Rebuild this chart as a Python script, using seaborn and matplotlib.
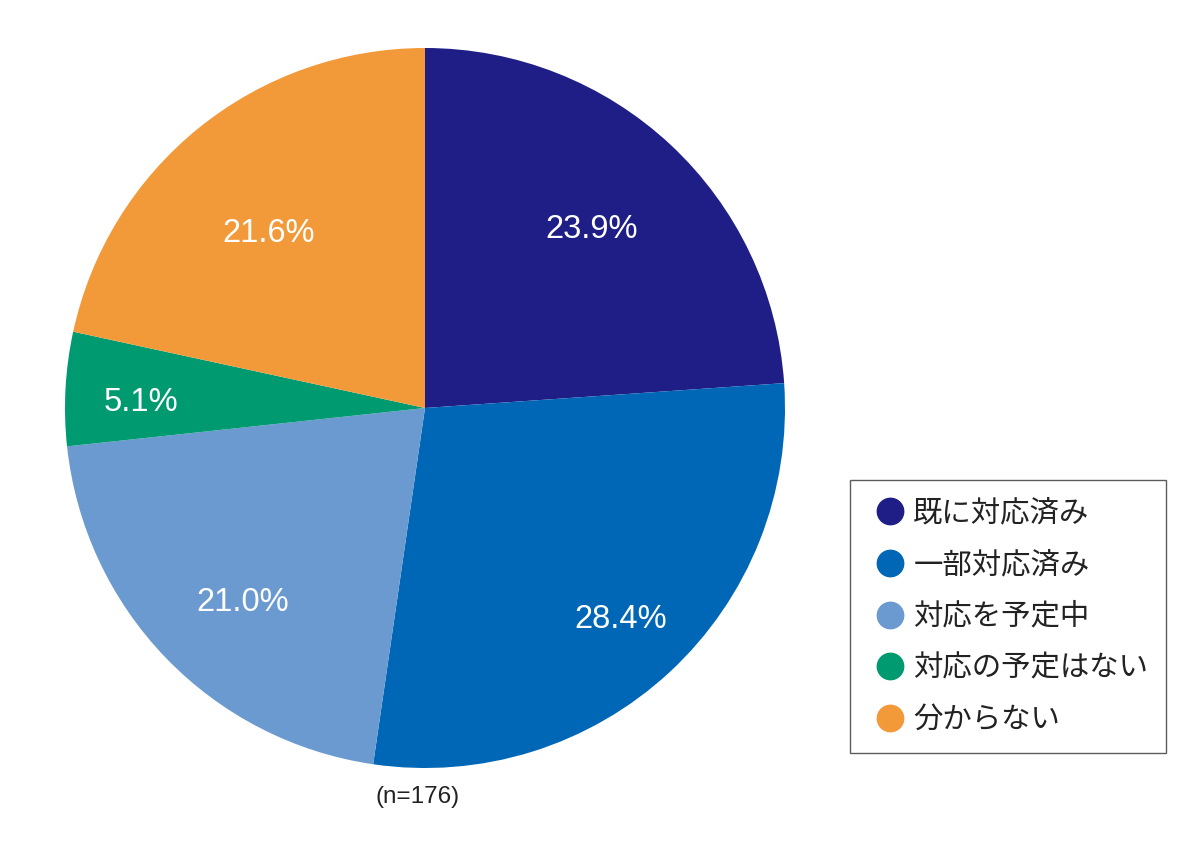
import matplotlib
matplotlib.use("Agg")
import matplotlib.pyplot as plt
import seaborn as sns
import numpy as np
from matplotlib.lines import Line2D

categories = ["既に対応済み", "一部対応済み", "対応を予定中", "対応の予定はない", "分からない"]
values = [23.9, 28.4, 21.0, 5.1, 21.6]
colors = ["#1e1e86", "#0066b6", "#6b9ad1", "#009a71", "#f29a39"]
sample_note = "(n=176)"

sns.set_theme(style="white")
plt.rcParams['font.family'] = ['Liberation Sans', 'Noto Sans CJK JP', 'DejaVu Sans']
palette = sns.color_palette(colors)

fig = plt.figure(figsize=(12, 8.57), dpi=100)
ax = fig.add_axes([65/1200, 89/857, 720/1200, 720/857])

wedges, _ = ax.pie(values, colors=palette, startangle=90, counterclock=False,
                   radius=1.0, wedgeprops=dict(linewidth=0))
ax.set_aspect('equal')
ax.set_xlim(-1, 1)
ax.set_ylim(-1, 1)

label_dist = [0.68, 0.80, 0.74, 0.79, 0.65]
label_rot = [0, 0, 3, 2, 3]
for w, v, d, r in zip(wedges, values, label_dist, label_rot):
    ang = np.deg2rad((w.theta1 + w.theta2) / 2 + r)
    ax.text(d * np.cos(ang), d * np.sin(ang), f"{v:.1f}%", ha='center', va='center',
            color='white', fontsize=23.5, family=['Liberation Sans', 'DejaVu Sans'])

fig.text(418/1200, 1 - 797/857, sample_note, ha='center', va='center', fontsize=17.5,
         color='#222222', family=['Liberation Sans', 'DejaVu Sans'])

handles = [Line2D([0], [0], marker='o', linestyle='none', markersize=19,
                  markerfacecolor=c, markeredgecolor=c) for c in palette]
leg = fig.legend(handles, categories, loc='upper left',
                 bbox_to_anchor=(850/1200, 1 - 480/857),
                 frameon=True, fancybox=False,
                 prop={'family': ['Noto Sans CJK JP', 'DejaVu Sans'], 'size': 21.2},
                 labelspacing=0.7, handletextpad=0.05, handlelength=1.5,
                 borderpad=0.6, borderaxespad=0)
leg.get_frame().set_edgecolor('#333333')
leg.get_frame().set_linewidth(1.0)
for t in leg.get_texts():
    t.set_color('#222222')

fig.savefig("out.png", dpi=100)
